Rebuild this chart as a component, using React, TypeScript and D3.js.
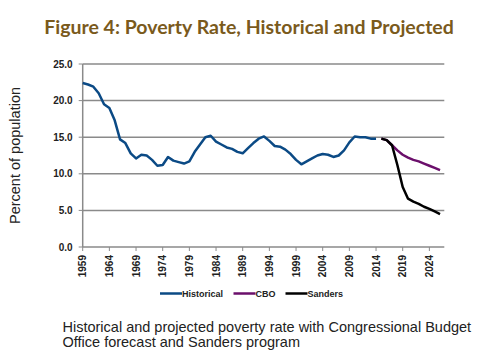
import React from 'react';
import * as d3 from 'd3';

// Official poverty rate 1959-2014, then two projections from 2015
const histYears = d3.range(1959, 2015);
const histValues = [
  22.4, 22.2, 21.9, 21.0, 19.5, 19.0, 17.3, 14.7, 14.2, 12.8,
  12.1, 12.6, 12.5, 11.9, 11.1, 11.2, 12.3, 11.8, 11.6, 11.4,
  11.7, 13.0, 14.0, 15.0, 15.2, 14.4, 14.0, 13.6, 13.4, 13.0,
  12.8, 13.5, 14.2, 14.8, 15.1, 14.5, 13.8, 13.7, 13.3, 12.7,
  11.9, 11.3, 11.7, 12.1, 12.5, 12.7, 12.6, 12.3, 12.5, 13.2,
  14.3, 15.1, 15.0, 15.0, 14.8, 14.8,
];
const projYears = d3.range(2015, 2027);
const cboValues = [14.8, 14.6, 13.9, 13.2, 12.6, 12.2, 11.9, 11.7, 11.4, 11.1, 10.8, 10.5];
const sandersValues = [14.8, 14.6, 13.9, 11.2, 8.2, 6.6, 6.2, 5.9, 5.5, 5.2, 4.85, 4.5];

const yTicks = [0, 5, 10, 15, 20, 25];
const xTickYears = d3.range(1959, 2025, 5);

const legendItems = [
  { label: 'Historical', color: '#0b4a85' },
  { label: 'CBO', color: '#6b0f6b' },
  { label: 'Sanders', color: '#000000' },
];

const captionLines = [
  'Historical and projected poverty rate with Congressional Budget',
  'Office forecast and Sanders program',
];

const W = 500;
const H = 361;
const plot = { left: 82.7, right: 444.3, top: 64, bottom: 247 };

export default function App() {
  const x = d3.scaleLinear().domain([1959, 2026.8]).range([plot.left, plot.right]);
  const y = d3.scaleLinear().domain([0, 25]).range([plot.bottom, plot.top]);

  const line = d3.line<[number, number]>()
    .x(d => x(d[0]))
    .y(d => y(d[1]));

  const hist = histYears.map((yr, i) => [yr, histValues[i]] as [number, number]);
  const cbo = projYears.map((yr, i) => [yr, cboValues[i]] as [number, number]);
  const sanders = projYears.map((yr, i) => [yr, sandersValues[i]] as [number, number]);

  const gridColor = '#8a8a8a';
  const fontSans = '"Liberation Sans", Arial, sans-serif';

  return (
    <svg
      width={W}
      height={H}
      style={{ position: 'absolute', left: 0, top: 0, background: '#fff' }}
    >
      <text
        x={249}
        y={34}
        textAnchor="middle"
        fontFamily="Lato, sans-serif"
        fontWeight={700}
        fontSize={19.5}
        fill="#7a5a1c"
      >
        Figure 4: Poverty Rate, Historical and Projected
      </text>

      {/* gridlines + y ticks */}
      {yTicks.map(t => (
        <g key={t}>
          <line x1={plot.left} x2={plot.right} y1={y(t)} y2={y(t)} stroke={gridColor} strokeWidth={1.5} />
          <line x1={plot.left - 4} x2={plot.left} y1={y(t)} y2={y(t)} stroke={gridColor} strokeWidth={1} />
          <text
            x={plot.left - 10}
            y={y(t)}
            dy="0.35em"
            textAnchor="end"
            fontFamily={fontSans}
            fontWeight={700}
            fontSize={10}
            fill="#222"
          >
            {d3.format('.1f')(t)}
          </text>
        </g>
      ))}
      <line x1={plot.left} x2={plot.left} y1={plot.top} y2={plot.bottom} stroke={gridColor} strokeWidth={1.5} />

      {/* x ticks */}
      {xTickYears.map(yr => (
        <g key={yr}>
          <line x1={x(yr)} x2={x(yr)} y1={plot.bottom} y2={plot.bottom + 4} stroke={gridColor} strokeWidth={1} />
          <text
            transform={`translate(${x(yr)},${plot.bottom + 8}) rotate(-90)`}
            dy="0.35em"
            textAnchor="end"
            fontFamily={fontSans}
            fontWeight={700}
            fontSize={10}
            fill="#222"
          >
            {yr}
          </text>
        </g>
      ))}

      <text
        transform={`translate(20,${(plot.top + plot.bottom) / 2}) rotate(-90)`}
        textAnchor="middle"
        fontFamily={fontSans}
        fontSize={14.5}
        fill="#222"
      >
        Percent of population
      </text>

      <path d={line(hist) ?? ''} fill="none" stroke={legendItems[0].color} strokeWidth={2.5} strokeLinejoin="round" />
      <path d={line(cbo) ?? ''} fill="none" stroke={legendItems[1].color} strokeWidth={2.5} strokeLinejoin="round" />
      <path d={line(sanders) ?? ''} fill="none" stroke={legendItems[2].color} strokeWidth={2.5} strokeLinejoin="round" />

      {/* legend */}
      {legendItems.map((item, i) => {
        const lx = [160, 233.5, 285.5][i];
        return (
          <g key={item.label} transform={`translate(${lx},293.5)`}>
            <line x1={0} x2={22} y1={0} y2={0} stroke={item.color} strokeWidth={2.5} />
            <text x={22} y={0} dy="0.35em" fontFamily={fontSans} fontWeight={700} fontSize={9} fill="#222">
              {item.label}
            </text>
          </g>
        );
      })}

      {captionLines.map((txt, i) => (
        <text
          key={i}
          x={62.5}
          y={331.5 + i * 15}
          fontFamily={fontSans}
          fontSize={14.5}
          fill="#222"
        >
          {txt}
        </text>
      ))}
    </svg>
  );
}
